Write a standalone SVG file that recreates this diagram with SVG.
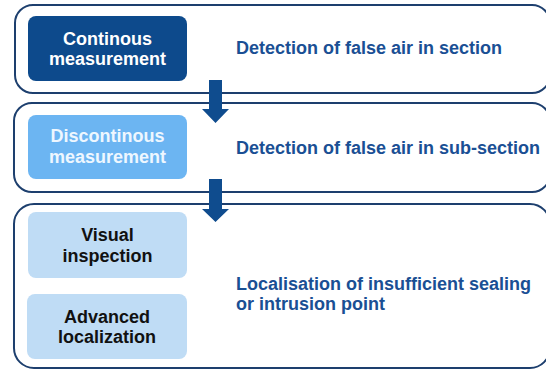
<svg xmlns="http://www.w3.org/2000/svg" width="546" height="369" viewBox="0 0 546 369">
<style>
.outer{fill:#ffffff;stroke:#1d3f6e;stroke-width:2}
.inner{stroke:none}
.t{font-family:"Liberation Sans",Arial,sans-serif;font-weight:bold;font-size:18px}
.c{text-anchor:middle}
.desc{fill:#1a4f94}
.arrow{fill:#0f4c8e}
</style>
<rect width="546" height="369" fill="#ffffff"/>
<g id="stage1">
<rect class="outer" x="15" y="5" width="535" height="88" rx="18"/>
<g id="continous">
<rect class="inner" x="28" y="16" width="159" height="65" rx="8" fill="#0d4a8c"/>
<text class="t c" x="107.5" y="45" fill="#ffffff">Continous</text>
<text class="t c" x="107.5" y="65" fill="#ffffff">measurement</text>
</g>
<text class="t desc" x="236" y="54">Detection of false air in section</text>
</g>
<g id="stage2">
<rect class="outer" x="14" y="103" width="536" height="89" rx="18"/>
<g id="discontinous">
<rect class="inner" x="28" y="115" width="159" height="64" rx="8" fill="#6cb5f2"/>
<text class="t c" x="107.5" y="142" fill="#eef7ff">Discontinous</text>
<text class="t c" x="107.5" y="163" fill="#eef7ff">measurement</text>
</g>
<text class="t desc" x="236" y="154">Detection of false air in sub-section</text>
</g>
<g id="stage3">
<rect class="outer" x="14" y="204" width="536" height="164" rx="20"/>
<g id="visual">
<rect class="inner" x="28" y="212" width="159" height="66" rx="8" fill="#bfdcf5"/>
<text class="t c" x="107.5" y="241" fill="#111111">Visual</text>
<text class="t c" x="107.5" y="262" fill="#111111">inspection</text>
</g>
<g id="advanced">
<rect class="inner" x="27" y="294" width="160" height="65" rx="8" fill="#bfdcf5"/>
<text class="t c" x="107" y="323" fill="#111111">Advanced</text>
<text class="t c" x="107" y="343" fill="#111111">localization</text>
</g>
<text class="t desc" x="236" y="290">Localisation of insufficient sealing</text>
<text class="t desc" x="236" y="310">or intrusion point</text>
</g>
<g id="connectors">
<polygon class="arrow" points="209,80 222,80 222,109 229,109 215.5,123 202,109 209,109"/>
<polygon class="arrow" points="209,179 222,179 222,209 229,209 215.5,222 202,209 209,209"/>
</g>
</svg>
